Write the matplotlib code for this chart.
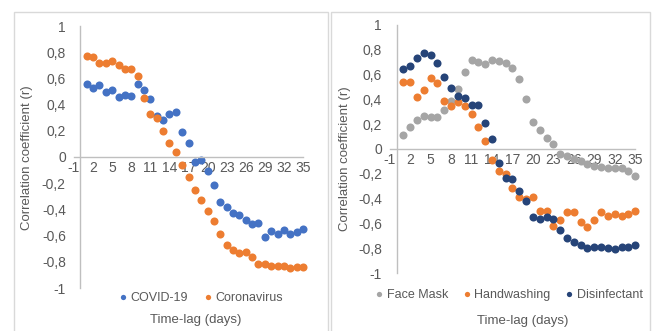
"""
Time-lag correlation scatter charts (search terms vs cases).
Two Excel-style panels, saved to out.png.
"""

import matplotlib
matplotlib.use('Agg')
import matplotlib.pyplot as plt
import matplotlib.patches as mpatches
from matplotlib.ticker import FuncFormatter, FixedLocator

# ---- data ----
lags = list(range(1, 36))

covid = [0.56, 0.525, 0.55, 0.50, 0.515, 0.46, 0.475, 0.465, 0.56, 0.51,
         0.44, 0.31, 0.28, 0.325, 0.34, 0.19, 0.11, -0.04, -0.025, -0.11,
         -0.21, -0.34, -0.38, -0.43, -0.44, -0.48, -0.515, -0.505, -0.61, -0.565,
         -0.59, -0.56, -0.59, -0.57, -0.55]
coronavirus = [0.77, 0.76, 0.72, 0.72, 0.735, 0.70, 0.67, 0.67, 0.62, 0.45,
               0.33, 0.295, 0.20, 0.11, 0.035, -0.06, -0.15, -0.25, -0.33, -0.41,
               -0.49, -0.59, -0.67, -0.71, -0.73, -0.725, -0.765, -0.815, -0.815, -0.83,
               -0.83, -0.83, -0.845, -0.84, -0.84]

face_mask = [0.11, 0.18, 0.23, 0.265, 0.255, 0.255, 0.31, 0.39, 0.48, 0.62,
             0.72, 0.70, 0.68, 0.72, 0.71, 0.69, 0.65, 0.565, 0.40, 0.22,
             0.15, 0.085, 0.04, -0.04, -0.06, -0.08, -0.10, -0.12, -0.135, -0.145,
             -0.15, -0.155, -0.15, -0.175, -0.22]
handwashing = [0.54, 0.54, 0.42, 0.475, 0.57, 0.53, 0.39, 0.345, 0.375, 0.345,
               0.28, 0.18, 0.065, -0.09, -0.18, -0.20, -0.31, -0.39, -0.40, -0.39,
               -0.50, -0.50, -0.62, -0.57, -0.51, -0.51, -0.59, -0.63, -0.57, -0.51,
               -0.54, -0.525, -0.54, -0.525, -0.50]
disinfectant = [0.64, 0.67, 0.73, 0.77, 0.76, 0.69, 0.58, 0.49, 0.425, 0.41,
                0.35, 0.35, 0.21, 0.08, -0.11, -0.23, -0.245, -0.335, -0.415, -0.55,
                -0.565, -0.545, -0.565, -0.655, -0.72, -0.745, -0.77, -0.80, -0.785, -0.79,
                -0.80, -0.805, -0.79, -0.79, -0.77]

x_ticks = list(range(-1, 36, 3))
y_ticks = [-1, -0.8, -0.6, -0.4, -0.2, 0, 0.2, 0.4, 0.6, 0.8, 1]

BLUE = '#4472C4'
ORANGE = '#ED7D31'
GREY = '#A5A5A5'
NAVY = '#264478'
TEXT = '#595959'
AXIS = '#BFBFBF'
BORDER = '#D9D9D9'

plt.rcParams['font.family'] = ['Liberation Sans', 'DejaVu Sans']

W, H = 655, 331


def fx(px):
    return px / W


def fy(py):
    return 1 - py / H


def comma(v, pos=None):
    s = f'{v:.1f}'.rstrip('0').rstrip('.')
    if s in ('-0', ''):
        s = '0'
    return s.replace('.', ',')


def style_axes(ax):
    ax.set_xlim(-1, 35)
    ax.set_ylim(-1, 1)
    ax.set_facecolor('none')
    for side in ('top', 'right'):
        ax.spines[side].set_visible(False)
    # Excel-style: axes cross at the origin
    ax.spines['left'].set_position(('data', 0))
    ax.spines['bottom'].set_position(('data', 0))
    for side in ('left', 'bottom'):
        ax.spines[side].set_color(AXIS)
        ax.spines[side].set_linewidth(1.0)
    ax.xaxis.set_major_locator(FixedLocator(x_ticks))
    ax.xaxis.set_major_formatter(FuncFormatter(lambda v, p: f'{int(round(v))}'))
    ax.yaxis.set_major_locator(FixedLocator(y_ticks))
    ax.yaxis.set_major_formatter(FuncFormatter(comma))
    ax.tick_params(axis='both', length=0, colors=TEXT, labelsize=10)
    ax.tick_params(axis='y', pad=10.5)
    ax.tick_params(axis='x', pad=3)


def draw_series(ax, ys, color):
    ax.plot(lags, ys, 'o', color=color, markersize=5.8, markeredgewidth=0,
            clip_on=False)


fig = plt.figure(figsize=(W / 100, H / 100), dpi=100)
fig.patch.set_facecolor('white')

# chart-area borders
for x0, x1 in ((14, 328), (331, 650)):
    fig.patches.append(mpatches.Rectangle((fx(x0), fy(340)), fx(x1 - x0), (340 - 12) / H,
                                          transform=fig.transFigure, fill=False,
                                          edgecolor=BORDER, linewidth=1.0))

# ---- left panel ----
ax1 = fig.add_axes([fx(74), fy(288), fx(303 - 74), (288 - 26) / H])
style_axes(ax1)
draw_series(ax1, covid, BLUE)
draw_series(ax1, coronavirus, ORANGE)

# ---- right panel ----
ax2 = fig.add_axes([fx(389.7), fy(273.3), fx(635.2 - 389.7), (273.3 - 24.7) / H])
style_axes(ax2)
draw_series(ax2, face_mask, GREY)
draw_series(ax2, handwashing, ORANGE)
draw_series(ax2, disinfectant, NAVY)

# axis titles
for cx, cy in ((27, 158), (345, 159)):
    fig.text(fx(cx), fy(cy), 'Correlation coefficient (r)', rotation=90,
             ha='center', va='center', fontsize=9.5, color=TEXT)
fig.text(fx(196), fy(320), 'Time-lag (days)', ha='center', va='center',
         fontsize=9.5, color=TEXT)
fig.text(fx(523), fy(321), 'Time-lag (days)', ha='center', va='center',
         fontsize=9.5, color=TEXT)


# legends
def legend_handles(items):
    return [plt.Line2D([0], [0], marker='o', linewidth=0, markersize=3.8,
                       markerfacecolor=c, markeredgewidth=0, label=l)
            for l, c in items]


fig.legend(handles=legend_handles([('COVID-19', BLUE), ('Coronavirus', ORANGE)]),
           loc='center', bbox_to_anchor=(fx(201), fy(298)), ncol=2, frameon=False,
           fontsize=9, labelcolor=TEXT, handlelength=0.6, handletextpad=0.3,
           columnspacing=1.3, borderpad=0)
fig.legend(handles=legend_handles([('Face Mask', GREY), ('Handwashing', ORANGE),
                                   ('Disinfectant', NAVY)]),
           loc='center', bbox_to_anchor=(fx(509), fy(295)), ncol=3, frameon=False,
           fontsize=9, labelcolor=TEXT, handlelength=0.6, handletextpad=0.3,
           columnspacing=1.2, borderpad=0)

plt.savefig('out.png', dpi=100, facecolor=fig.get_facecolor())
plt.close()
